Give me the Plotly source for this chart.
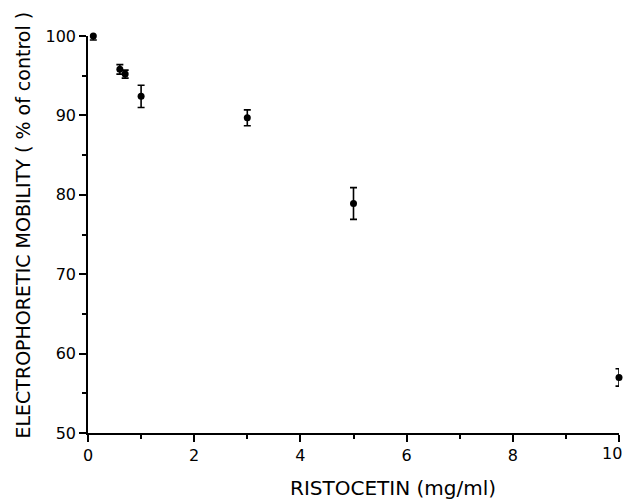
import plotly.graph_objects as go

ristocetin = [0.1, 0.6, 0.7, 1.0, 3.0, 5.0, 10.0]
mobility = [100.0, 95.8, 95.2, 92.4, 89.7, 78.9, 57.0]
sem = [0.5, 0.6, 0.5, 1.4, 1.0, 2.0, 1.1]

x_ticks = [0, 2, 4, 6, 8, 10]
x_ticktext = ["0", "2", "4", "6", "8", ""]  # "10" drawn as annotation so it is not hidden at the edge
y_ticks = [50, 60, 70, 80, 90, 100]

font_family = "DejaVu Sans"

fig = go.Figure()
fig.add_trace(go.Scatter(
    x=ristocetin, y=mobility, mode="markers",
    marker=dict(color="black", size=7),
    error_y=dict(type="data", array=sem, visible=True, color="black", thickness=1.6, width=3.5),
    cliponaxis=False, showlegend=False, hoverinfo="skip",
))

fig.update_layout(
    width=624, height=500,
    margin=dict(l=88, r=5, t=36, b=67),
    paper_bgcolor="white", plot_bgcolor="white",
    font=dict(family=font_family, color="black", size=16),
    xaxis=dict(range=[0, 10], tickvals=x_ticks, ticktext=x_ticktext,
               showline=True, linecolor="black", linewidth=1.6, ticks="outside",
               ticklen=7, tickwidth=1.6, tickcolor="black", showgrid=False, zeroline=False,
               minor=dict(dtick=1, ticks="outside", ticklen=4, tickwidth=1.6, tickcolor="black"),
               tickfont=dict(size=16)),
    yaxis=dict(range=[50, 100], tickvals=y_ticks, ticktext=[str(v) for v in y_ticks],
               showline=True, linecolor="black", linewidth=1.6, ticks="outside",
               ticklen=7, tickwidth=1.6, tickcolor="black", showgrid=False, zeroline=False,
               minor=dict(dtick=5, ticks="outside", ticklen=4, tickwidth=1.6, tickcolor="black"),
               tickfont=dict(size=16)),
    annotations=[
        dict(text=str(x_ticks[-1]), xref="x", yref="y", x=x_ticks[-1], y=y_ticks[0],
             xanchor="right", yanchor="top", xshift=5, yshift=-9, showarrow=False,
             font=dict(size=16)),
        dict(text="RISTOCETIN (mg/ml)", xref="paper", yref="paper", x=0.574, y=-0.139,
             xanchor="center", yanchor="middle", showarrow=False, font=dict(size=20)),
        dict(text="ELECTROPHORETIC MOBILITY ( % of control )", xref="paper", yref="paper",
             x=0, y=0.5, xshift=-66, yshift=9, textangle=-90,
             xanchor="center", yanchor="middle", showarrow=False, font=dict(size=19)),
    ],
)

fig.write_html("out.html", config={"displayModeBar": False},
               post_script="document.body.style.margin='0';")
